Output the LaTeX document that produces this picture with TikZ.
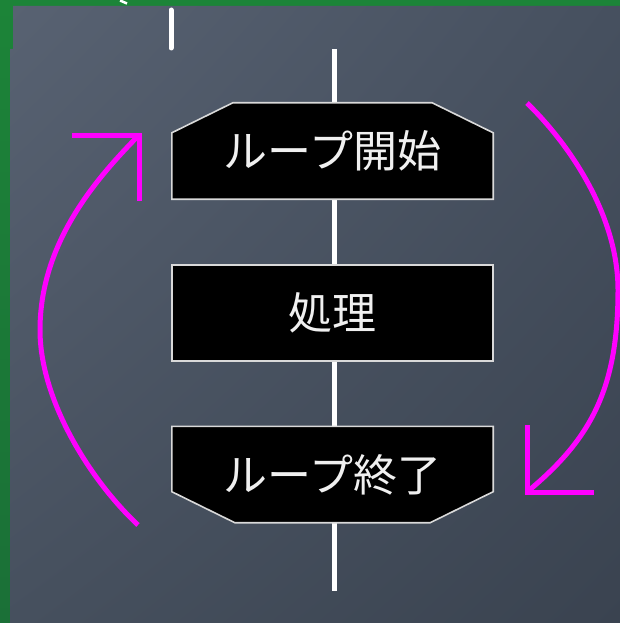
\documentclass[tikz,border=0pt]{standalone}
\usepackage{fontspec}
\newfontfamily\cjk{Noto Sans CJK JP}
\usetikzlibrary{calc,shadings}
\definecolor{frame}{RGB}{28,132,56}
\definecolor{frameB}{RGB}{27,112,55}
\definecolor{bgUL}{RGB}{88,98,114}
\definecolor{bgUR}{RGB}{70,80,95}
\definecolor{bgLL}{RGB}{70,80,94}
\definecolor{bgLR}{RGB}{58,67,80}
\definecolor{loopc}{RGB}{255,0,255}
\definecolor{txt}{RGB}{240,240,240}
\pgfdeclarelayer{bglayer}
\pgfdeclarelayer{midlayer}
\pgfsetlayers{bglayer,midlayer,main}
\tikzset{
  boxtext/.style={minimum width=321pt, minimum height=96pt, inner sep=0pt,
    text=txt, font=\cjk\fontsize{44}{44}\selectfont},
  boxline/.style={draw=white!85!black, line width=1.6pt, fill=black},
  flowline/.style={draw=white, line width=5pt},
  looparrow/.style={draw=loopc, line width=5pt, line join=miter},
}
\begin{document}
\begin{tikzpicture}[x=1pt, y=-1pt]
\useasboundingbox (0,0) rectangle (620,623);
% nodes (text)
\node[boxtext] (b1) at (332.5,151) {ループ開始};
\node[boxtext] (b2) at (332.5,313) {処理};
\node[boxtext] (b3) at (332.5,474.5) {ループ終了};
\coordinate (top) at (334,49);
\coordinate (bot) at (334,591);

\begin{pgfonlayer}{bglayer}
\shade[top color=frame, bottom color=frameB] (0,0) rectangle (620,623);
\shade[upper left=bgUL, upper right=bgUR, lower left=bgLL, lower right=bgLR]
  (13,6) -- (620,6) -- (620,623) -- (10,623) -- (10,49) -- (13,49) -- cycle;
\draw[white, line width=2.5pt] (120,0.5) -- (127,3.5);
\draw[white, line width=5pt, line cap=round] (171,10) -- (171,48);
\end{pgfonlayer}

\begin{pgfonlayer}{midlayer}
\draw[flowline] (top) -- (b1.north -| top);
\draw[flowline] (b1.south -| top) -- (b2.north -| top);
\draw[flowline] (b2.south -| top) -- (b3.north -| top);
\draw[flowline] (b3.south -| top) -- (bot);
\path[boxline] ($(b1.north west)+(61,0)$) -- ($(b1.north east)+(-61,0)$)
  -- ($(b1.north east)+(0,30)$) -- (b1.south east) -- (b1.south west)
  -- ($(b1.north west)+(0,30)$) -- cycle;
\path[boxline] (b2.north west) rectangle (b2.south east);
\path[boxline] (b3.north west) -- (b3.north east)
  -- ($(b3.south east)+(0,-31)$) -- ($(b3.south east)+(-63,0)$)
  -- ($(b3.south west)+(63,0)$) -- ($(b3.south west)+(0,-31)$) -- cycle;
\end{pgfonlayer}

% loop arrows
\coordinate (rs) at (527,103);
\coordinate (rm) at (618,290);
\coordinate (rt) at (527,492);
\draw[looparrow] (rs) .. controls (575,150) and (618,220) .. (rm)
  .. controls (618,390) and (590,440) .. (rt);
\draw[looparrow] ($(rt)+(0,-67)$) -- (rt) -- ($(rt)+(67,0)$);

\coordinate (ls) at (138,525);
\coordinate (lm) at (40,330);
\coordinate (lt) at (139,135);
\draw[looparrow] (ls) .. controls (90,480) and (40,400) .. (lm)
  .. controls (40,240) and (100,175) .. (lt);
\draw[looparrow] ($(lt)+(-67,0)$) -- (lt) -- ($(lt)+(0,66)$);
\end{tikzpicture}
\end{document}
